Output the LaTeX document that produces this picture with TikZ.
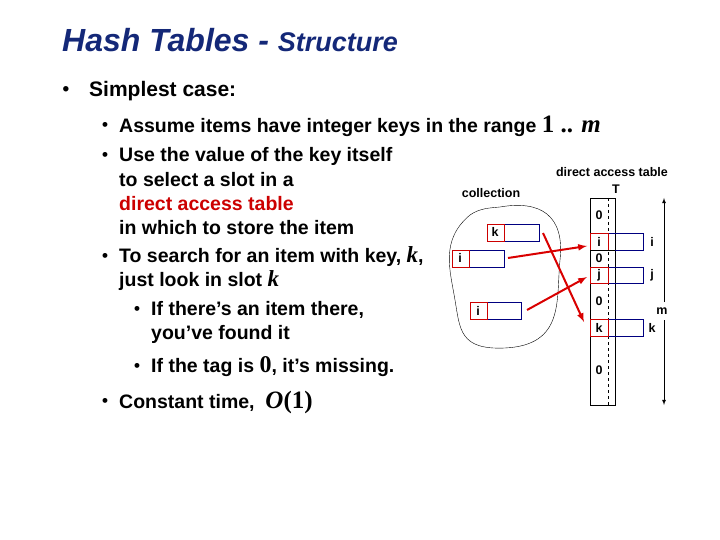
\documentclass[tikz,border=0pt]{standalone}
\usepackage{fontspec}
\setmainfont{Liberation Sans}
\newfontfamily\tms{Liberation Serif}
\begin{document}
\begin{tikzpicture}[x=1pt,y=-1pt,
 txt/.style={anchor=west,inner sep=0,font=\bfseries\fontsize{19.5}{22}\selectfont},
 sm/.style={inner sep=0,font=\bfseries\fontsize{12.5}{14}\selectfont},
 rc/.style={draw=red!80!black,thick},
 bc/.style={draw=blue!50!black,thick},
 arr/.style={red!85!black,line width=2pt,-latex}]
\useasboundingbox (0,0) rectangle (720,540);
\definecolor{tb}{RGB}{20,40,120}
\node[anchor=west,inner sep=0,text=tb,font=\bfseries\itshape] (title) at (62,40) {\fontsize{32}{34}\selectfont Hash Tables - \fontsize{27}{28}\selectfont Structure};
\node[anchor=center,inner sep=0,font=\bfseries\fontsize{19}{24}\selectfont] (b1) at (66,91) {•};
\node[anchor=west,inner sep=0,font=\bfseries\fontsize{21}{24}\selectfont] (b1t) at (89,91) {Simplest case:};
\foreach \x/\y/\n in {105/126/a,105/156/b,105/257/c,137/310/d,137/367/e,105/402/f}{
 \node[anchor=center,inner sep=0,font=\bfseries\fontsize{17}{20}\selectfont] (bul\n) at (\x,\y) {•};}
\node[txt] (l1) at (119,126) {Assume items have integer keys in the range {\tms\fontsize{25}{26}\selectfont 1 .. \textit{m}}};
\node[txt] (l2) at (119,156) {Use the value of the key itself};
\node[txt] (l3) at (119,180) {to select a slot in a};
\node[txt,text=red!80!black] (l4) at (119,204) {direct access table};
\node[txt] (l5) at (119,228) {in which to store the item};
\node[txt] (l6) at (119,257) {To search for an item with key, {\tms\itshape\fontsize{23}{24}\selectfont k},};
\node[txt] (l7) at (119,281) {just look in slot {\tms\itshape\fontsize{23}{24}\selectfont k}};
\node[txt] (l8) at (151,310) {If there’s an item there,};
\node[txt] (l9) at (151,334) {you’ve found it};
\node[txt] (l10) at (151,367) {If the tag is {\tms\fontsize{24}{24}\selectfont 0}, it’s missing.};
\node[txt] (l11) at (119,402) {Constant time, \ {\tms\fontsize{25}{26}\selectfont\textit{O}(1)}};
% diagram
\node[sm] (dat) at (612,172) {direct access table};
\node[sm] (T) at (616,189) {T};
\node[sm] (col) at (491,193) {collection};
\draw (500,207) .. controls (540,200) and (565,215) .. (560,260) .. controls (556,300) and (565,345) .. (505,348) .. controls (460,350) and (460,330) .. (455,300) .. controls (450,270) and (440,240) .. (470,215) .. controls (480,208) and (490,208) .. (500,207);
\draw[thick] (590,198) rectangle (615,405);
\draw[dashed] (608,198) -- (608,405);
\foreach \ya/\yb/\t/\n in {233/250/i/ri,267/283/j/rj,319/336/k/rk}{
 \draw[bc] (608,\ya) rectangle (643,\yb);
 \draw[rc] (590,\ya) rectangle (608,\yb);
 \node[sm] (\n) at (599,{(\ya+\yb)/2}) {\t};
 \node[sm] at (652,{(\ya+\yb)/2}) {\t};}
\draw[thick] (590,250) -- (615,250);
\foreach \y in {215,258,301,370}{\node[sm] at (599,\y) {0};}
\node[sm] (m) at (662,311) {m};
\draw[thick,-latex] (664,302) -- (664,198);
\draw[thick,-latex] (664,320) -- (664,405);
% collection records
\draw[bc] (487,224) rectangle (539,241); \draw[rc] (487,224) rectangle (504,241);
\node[sm] (ck) at (495,232) {k};
\draw[bc] (452,250) rectangle (504,267); \draw[rc] (452,250) rectangle (469,267);
\node[sm] (ci) at (460,258) {i};
\draw[bc] (470,302) rectangle (521,319); \draw[rc] (470,302) rectangle (487,319);
\node[sm] (ci2) at (478,311) {i};
\coordinate (s1) at (508,258); \coordinate (e1) at (587,246);
\coordinate (s2) at (527,310); \coordinate (e2) at (587,277);
\coordinate (s3) at (543,233); \coordinate (e3) at (584,322);
\draw[arr] (s1) -- (e1);
\draw[arr] (s2) -- (e2);
\draw[arr] (s3) -- (e3);
\end{tikzpicture}
\end{document}
